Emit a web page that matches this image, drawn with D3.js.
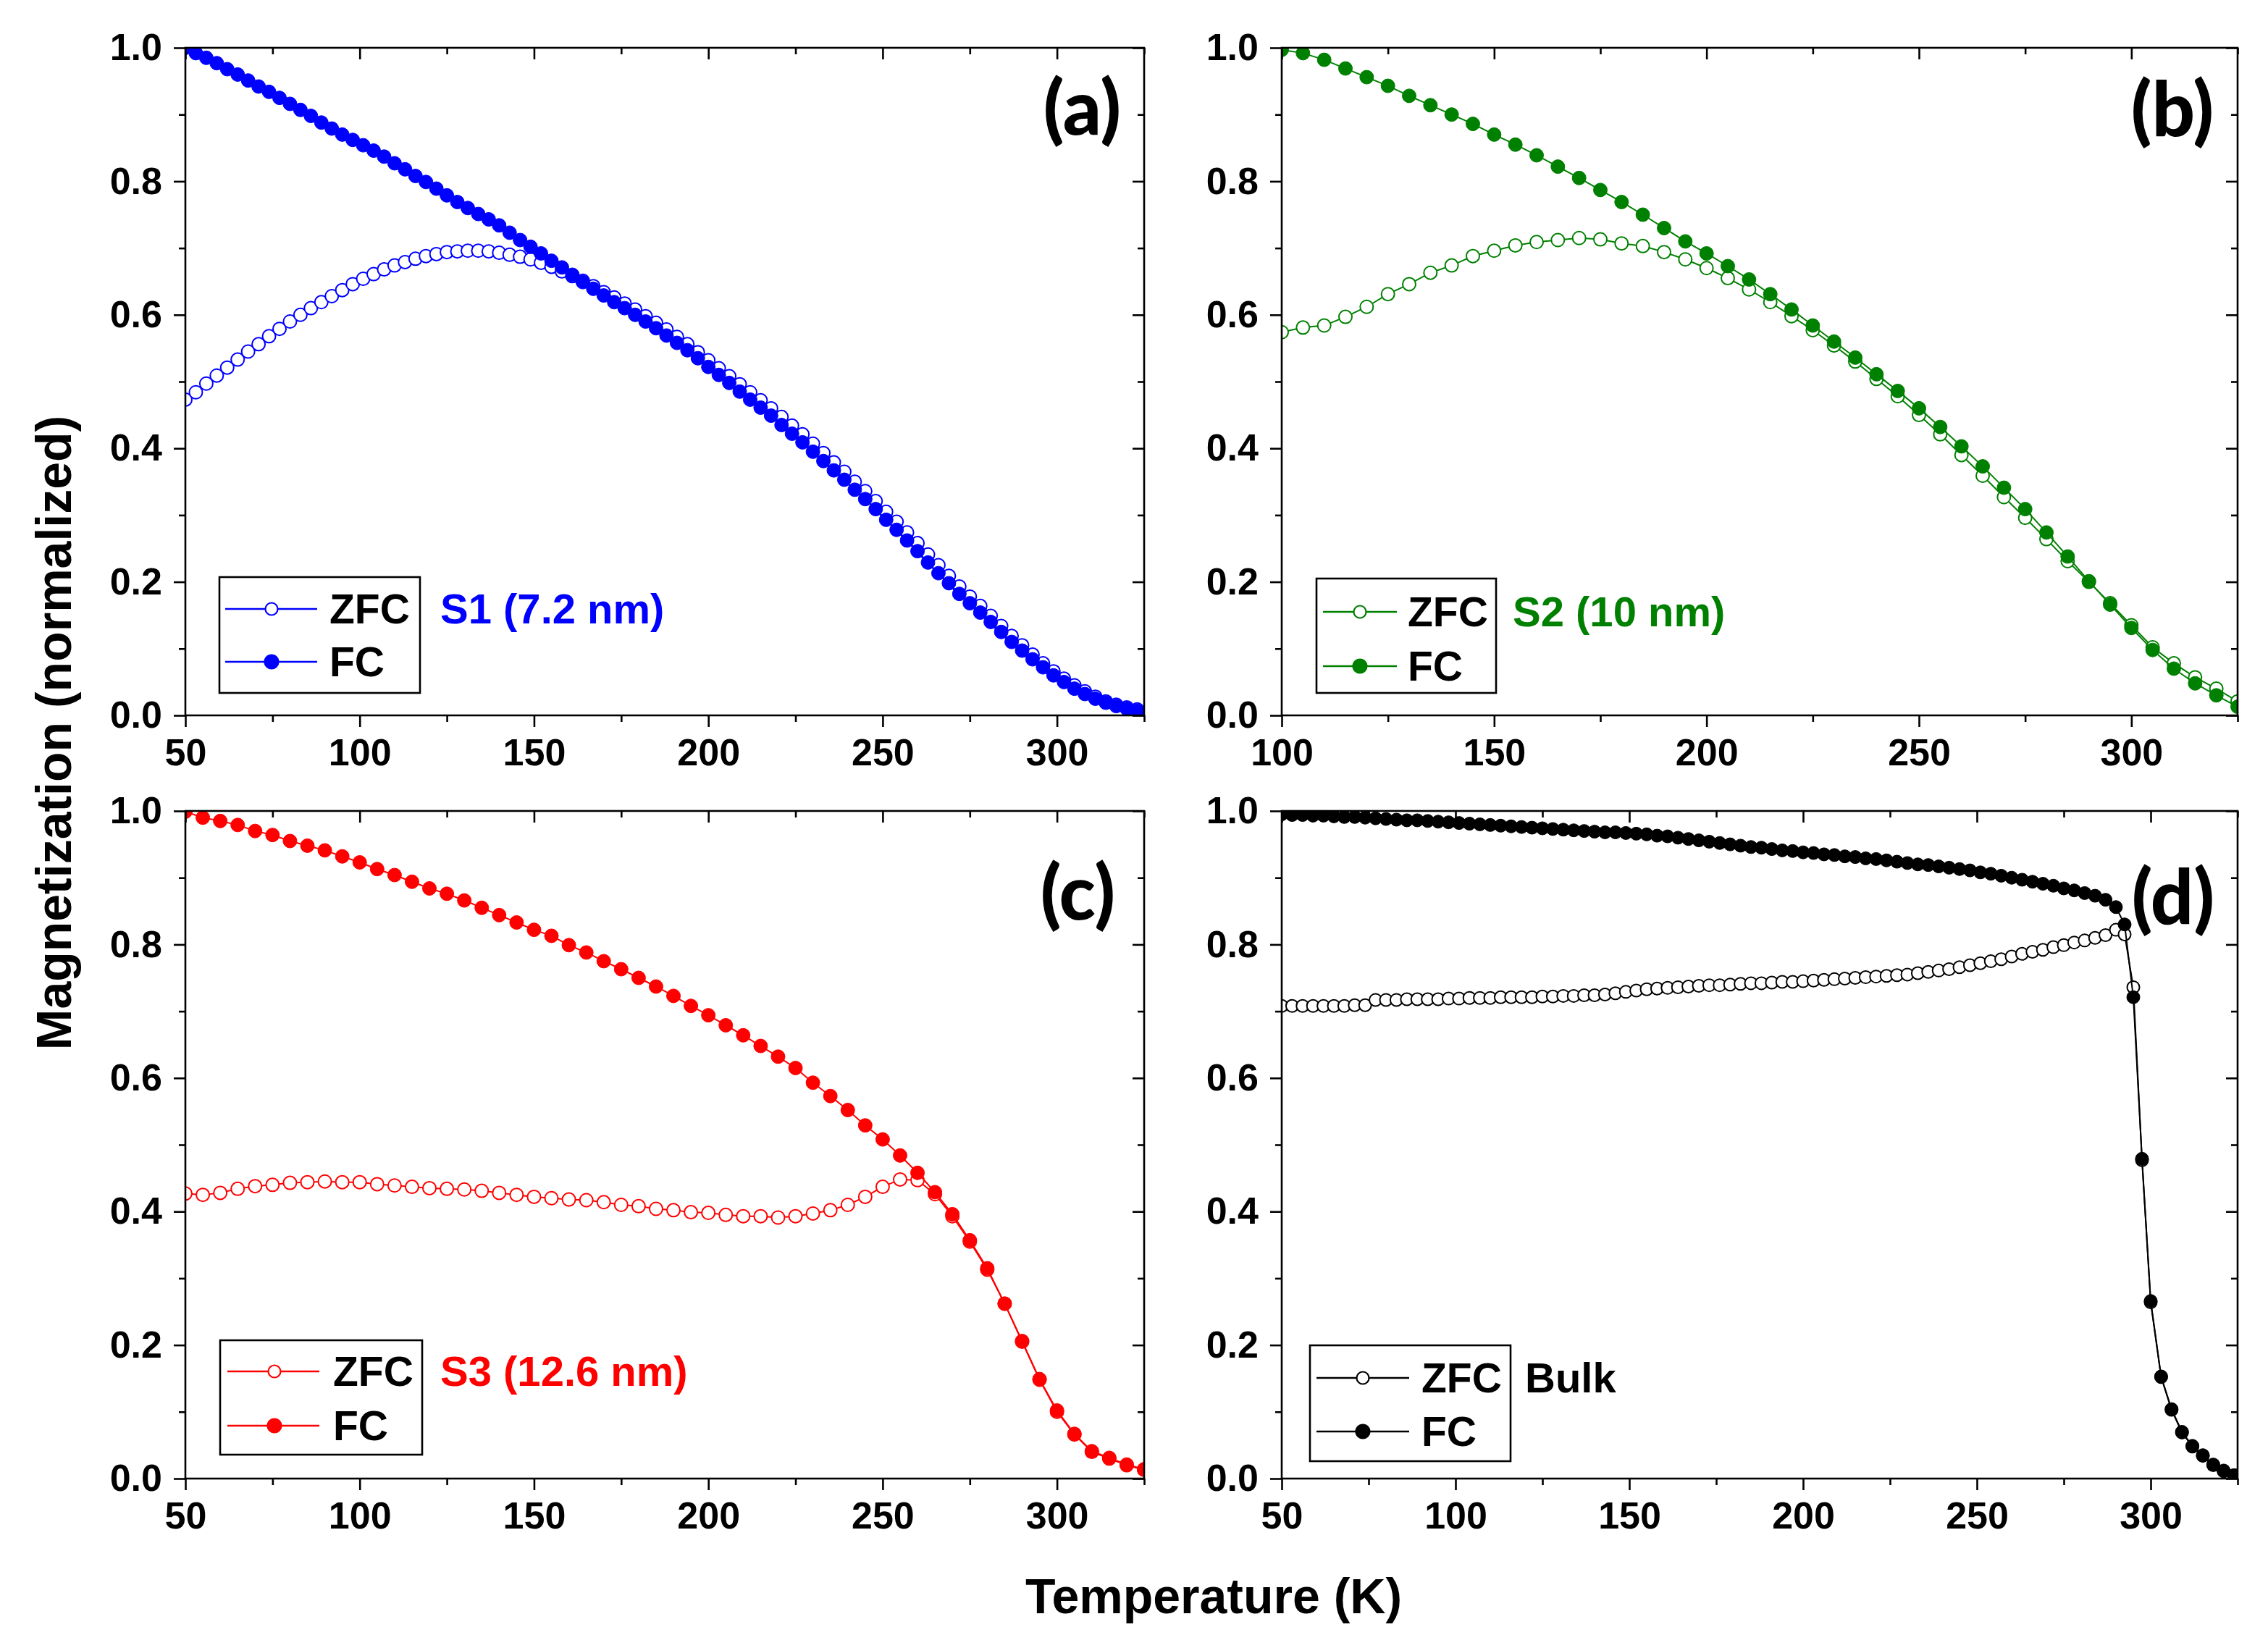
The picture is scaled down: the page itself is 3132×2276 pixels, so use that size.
<!DOCTYPE html>
<html><head><meta charset="utf-8">
<script src="https://cdn.jsdelivr.net/npm/d3@7"></script>
<style>
html,body{margin:0;padding:0;background:#fff;}
svg{display:block;}
text{font-family:"Liberation Sans",Arial,sans-serif;font-weight:bold;}
</style>
</head><body>
<svg id="chart" width="3132" height="2276"></svg>
<script>
// ---------------- DATA ----------------
const panelKeys = ["a","b","c","d"];
const panelLabels = ["(a)","(b)","(c)","(d)"];
const sampleNames = ["S1 (7.2 nm)","S2 (10 nm)","S3 (12.6 nm)","Bulk"];
const seriesNames = ["ZFC","FC"];
const xAxisTitle = "Temperature (K)";
const yAxisTitle = "Magnetization (normalized)";
const yTicks = [0.0,0.2,0.4,0.6,0.8,1.0];
const yMinorTicks = [0.1,0.3,0.5,0.7,0.9];
const xTicksA = [50,100,150,200,250,300];
const xMinorA = [75,125,175,225,275,325];
const xTicksB = [100,150,200,250,300];
const xMinorB = [125,175,225,275,325];

// Panel (a) S1
const tempA = [50,53,56,59,62,65,68,71,74,77,80,83,86,89,92,95,98,101,104,107,110,113,116,119,122,125,128,131,134,137,140,143,146,149,152,155,158,161,164,167,170,173,176,179,182,185,188,191,194,197,200,203,206,209,212,215,218,221,224,227,230,233,236,239,242,245,248,251,254,257,260,263,266,269,272,275,278,281,284,287,290,293,296,299,302,305,308,311,314,317,320,323];
const zfcA = [0.473,0.484,0.497,0.509,0.521,0.533,0.545,0.556,0.568,0.579,0.590,0.600,0.610,0.619,0.628,0.637,0.646,0.654,0.661,0.668,0.674,0.679,0.684,0.688,0.691,0.694,0.695,0.696,0.696,0.695,0.693,0.690,0.687,0.683,0.678,0.672,0.665,0.658,0.651,0.643,0.634,0.626,0.617,0.608,0.598,0.588,0.578,0.567,0.556,0.544,0.532,0.520,0.508,0.496,0.484,0.472,0.460,0.447,0.434,0.421,0.407,0.393,0.379,0.365,0.350,0.336,0.321,0.305,0.290,0.274,0.258,0.241,0.225,0.209,0.193,0.178,0.164,0.149,0.134,0.119,0.105,0.091,0.078,0.066,0.055,0.045,0.036,0.028,0.021,0.016,0.012,0.009];
const fcA = [1.000,0.992,0.985,0.977,0.968,0.960,0.951,0.942,0.934,0.925,0.916,0.907,0.898,0.888,0.879,0.870,0.862,0.854,0.846,0.837,0.827,0.818,0.808,0.799,0.789,0.779,0.769,0.760,0.751,0.743,0.734,0.723,0.712,0.702,0.692,0.681,0.671,0.660,0.649,0.639,0.629,0.619,0.610,0.600,0.590,0.580,0.569,0.558,0.547,0.535,0.522,0.510,0.498,0.485,0.473,0.461,0.449,0.435,0.422,0.409,0.395,0.381,0.367,0.353,0.338,0.324,0.309,0.293,0.278,0.262,0.246,0.229,0.213,0.198,0.182,0.168,0.154,0.140,0.125,0.110,0.097,0.084,0.072,0.060,0.050,0.040,0.032,0.025,0.019,0.014,0.010,0.007];

// Panel (b) S2
const tempB = [100,105,110,115,120,125,130,135,140,145,150,155,160,165,170,175,180,185,190,195,200,205,210,215,220,225,230,235,240,245,250,255,260,265,270,275,280,285,290,295,300,305,310,315,320,325];
const zfcB = [0.574,0.581,0.584,0.597,0.612,0.631,0.646,0.663,0.674,0.688,0.696,0.704,0.709,0.712,0.715,0.713,0.707,0.703,0.694,0.683,0.670,0.655,0.638,0.619,0.598,0.577,0.554,0.530,0.504,0.478,0.450,0.421,0.390,0.359,0.327,0.296,0.264,0.231,0.200,0.168,0.135,0.102,0.078,0.057,0.040,0.021];
const fcB = [0.997,0.992,0.982,0.969,0.956,0.943,0.928,0.914,0.900,0.886,0.870,0.855,0.839,0.822,0.805,0.787,0.769,0.750,0.730,0.710,0.692,0.673,0.653,0.631,0.608,0.584,0.560,0.536,0.511,0.486,0.460,0.432,0.403,0.373,0.341,0.309,0.274,0.238,0.201,0.166,0.131,0.098,0.070,0.048,0.030,0.013];

// Panel (c) S3
const tempC = [50,55,60,65,70,75,80,85,90,95,100,105,110,115,120,125,130,135,140,145,150,155,160,165,170,175,180,185,190,195,200,205,210,215,220,225,230,235,240,245,250,255,260,265,270,275,280,285,290,295,300,305,310,315,320,325];
const zfcC = [0.427,0.425,0.428,0.434,0.438,0.440,0.443,0.444,0.445,0.444,0.444,0.441,0.439,0.437,0.435,0.434,0.433,0.431,0.428,0.425,0.422,0.420,0.418,0.417,0.414,0.410,0.408,0.404,0.402,0.399,0.398,0.395,0.393,0.393,0.391,0.393,0.397,0.402,0.410,0.422,0.437,0.448,0.447,0.426,0.393,0.355,0.313,0.262,0.205,0.148,0.100,0.066,0.040,0.030,0.020,0.013];
const fcC = [0.999,0.990,0.985,0.979,0.970,0.964,0.955,0.948,0.941,0.932,0.923,0.913,0.904,0.894,0.884,0.876,0.866,0.855,0.844,0.833,0.822,0.813,0.799,0.788,0.775,0.763,0.750,0.737,0.723,0.708,0.694,0.679,0.664,0.648,0.632,0.615,0.593,0.573,0.552,0.529,0.508,0.484,0.458,0.429,0.396,0.357,0.315,0.262,0.206,0.149,0.102,0.067,0.041,0.031,0.021,0.014];

// Panel (d) Bulk
const tempD = [50,53,56,59,62,65,68,71,74,77,80,83,86,89,92,95,98,101,104,107,110,113,116,119,122,125,128,131,134,137,140,143,146,149,152,155,158,161,164,167,170,173,176,179,182,185,188,191,194,197,200,203,206,209,212,215,218,221,224,227,230,233,236,239,242,245,248,251,254,257,260,263,266,269,272,275,278,281,284,287,290,292.5,295,297.5,300,303,306,309,312,315,318,321,324];
const zfcD = [0.708,0.708,0.708,0.708,0.708,0.708,0.708,0.709,0.709,0.717,0.717,0.717,0.718,0.718,0.718,0.718,0.719,0.719,0.720,0.720,0.720,0.721,0.721,0.721,0.721,0.722,0.722,0.723,0.723,0.724,0.724,0.725,0.727,0.729,0.731,0.733,0.734,0.735,0.736,0.737,0.738,0.739,0.739,0.740,0.741,0.742,0.742,0.743,0.744,0.744,0.745,0.746,0.747,0.748,0.749,0.750,0.751,0.752,0.753,0.754,0.755,0.757,0.759,0.761,0.763,0.766,0.769,0.772,0.775,0.778,0.782,0.786,0.789,0.792,0.796,0.799,0.803,0.806,0.810,0.814,0.822,0.815,0.736,0.477,0.264,0.152,0.103,0.069,0.048,0.034,0.020,0.011,0.005];
const fcD = [0.995,0.994,0.994,0.993,0.993,0.992,0.991,0.991,0.990,0.989,0.988,0.987,0.986,0.986,0.985,0.984,0.983,0.982,0.981,0.980,0.979,0.978,0.977,0.976,0.975,0.974,0.973,0.972,0.971,0.970,0.969,0.968,0.968,0.967,0.966,0.965,0.963,0.962,0.960,0.958,0.956,0.954,0.952,0.950,0.948,0.946,0.945,0.943,0.941,0.940,0.938,0.937,0.935,0.934,0.932,0.931,0.929,0.928,0.926,0.924,0.922,0.920,0.919,0.917,0.915,0.913,0.911,0.908,0.906,0.903,0.900,0.897,0.894,0.891,0.888,0.884,0.881,0.877,0.873,0.867,0.856,0.830,0.721,0.479,0.266,0.153,0.104,0.070,0.049,0.035,0.021,0.012,0.005];

const panelColors = ["#0000ff","#008000","#ff0000","#000000"];

// ---------------- LAYOUT ----------------
const W = 3132, H = 2276;
const frames = {
  a:{x0:256,x1:1580,y0:66,y1:988},
  b:{x0:1770,x1:3090,y0:66,y1:988},
  c:{x0:256,x1:1580,y0:1120,y1:2042},
  d:{x0:1770,x1:3090,y0:1120,y1:2042}
};
const legendGeo = {
  a:{bx0:47,bx1:324,by0:731,by1:891,lx0:55,lx1:182,mx:119,tx:199,sx:352,r1:775,r2:848},
  b:{bx0:48,bx1:296,by0:733,by1:891,lx0:57,lx1:159,mx:108,tx:174,sx:319,r1:779,r2:854},
  c:{bx0:48,bx1:327,by0:731,by1:889,lx0:58,lx1:185,mx:123,tx:204,sx:352,r1:774,r2:849},
  d:{bx0:39,bx1:316,by0:738,by1:898,lx0:48,lx1:176,mx:112,tx:193,sx:336,r1:783,r2:857}
};
const labelGeo = {a:{dx:-32,y:120},b:{dx:-33,y:122},c:{dx:-40,y:150},d:{dx:-32,y:156}};
const markerR = {a:10,b:10,c:10,d:9.5};

const panelData = [
  {temps:tempA, zfc:zfcA, fc:fcA, xDomain:[50,325], xTicks:xTicksA, xMinor:xMinorA},
  {temps:tempB, zfc:zfcB, fc:fcB, xDomain:[100,325], xTicks:xTicksB, xMinor:xMinorB},
  {temps:tempC, zfc:zfcC, fc:fcC, xDomain:[50,325], xTicks:xTicksA, xMinor:xMinorA},
  {temps:tempD, zfc:zfcD, fc:fcD, xDomain:[50,325], xTicks:xTicksA, xMinor:xMinorA}
];

const svg = d3.select("#chart");
svg.append("rect").attr("width",W).attr("height",H).attr("fill","#fff");
const defs = svg.append("defs");

const AX_W = 2.6, MAJ = 16, MIN = 9, TICK_FS = 52;

function styleAxis(g){
  g.select(".domain").remove();
  g.selectAll(".tick line").attr("stroke","#000").attr("stroke-width",AX_W);
  g.selectAll(".tick text").attr("fill","#000").style("font-size",TICK_FS+"px")
    .style("font-family",'"Liberation Sans",Arial,sans-serif').style("font-weight","bold");
}

panelKeys.forEach((key,pi)=>{
  const P = panelData[pi];
  const F = frames[key];
  const color = panelColors[pi];
  const x = d3.scaleLinear().domain(P.xDomain).range([F.x0,F.x1]);
  const y = d3.scaleLinear().domain([0,1]).range([F.y1,F.y0]);
  const g = svg.append("g");

  defs.append("clipPath").attr("id","clip-"+key).append("rect")
    .attr("x",F.x0).attr("y",F.y0).attr("width",F.x1-F.x0).attr("height",F.y1-F.y0);
  const plot = g.append("g").attr("clip-path",`url(#clip-${key})`);

  const line = d3.line().x(d=>x(d[0])).y(d=>y(d[1]));
  const zData = P.temps.map((t,i)=>[t,P.zfc[i]]);
  const fData = P.temps.map((t,i)=>[t,P.fc[i]]);
  const r = markerR[key];

  plot.append("path").datum(zData).attr("d",line).attr("fill","none").attr("stroke",color).attr("stroke-width",2);
  plot.append("g").selectAll("circle").data(zData).join("circle")
    .attr("cx",d=>x(d[0])).attr("cy",d=>y(d[1])).attr("r",r-1)
    .attr("fill","#fff").attr("stroke",color).attr("stroke-width",2);
  plot.append("path").datum(fData).attr("d",line).attr("fill","none").attr("stroke",color).attr("stroke-width",2);
  plot.append("g").selectAll("circle").data(fData).join("circle")
    .attr("cx",d=>x(d[0])).attr("cy",d=>y(d[1])).attr("r",r-0.5)
    .attr("fill",color).attr("stroke",color).attr("stroke-width",1);

  g.append("g").attr("transform",`translate(0,${F.y1})`)
    .call(d3.axisBottom(x).tickValues(P.xTicks).tickSize(MAJ).tickPadding(16).tickFormat(d3.format("d"))).call(styleAxis);
  g.append("g").attr("transform",`translate(0,${F.y1})`)
    .call(d3.axisBottom(x).tickValues(P.xMinor).tickSize(MIN).tickFormat("")).call(styleAxis);
  g.append("g").attr("transform",`translate(0,${F.y0})`)
    .call(d3.axisBottom(x).tickValues(P.xTicks).tickSize(MAJ).tickFormat("")).call(styleAxis);
  g.append("g").attr("transform",`translate(0,${F.y0})`)
    .call(d3.axisBottom(x).tickValues(P.xMinor).tickSize(MIN).tickFormat("")).call(styleAxis);
  g.append("g").attr("transform",`translate(${F.x0},0)`)
    .call(d3.axisLeft(y).tickValues(yTicks).tickSize(MAJ).tickPadding(16).tickFormat(d3.format(".1f"))).call(styleAxis);
  g.append("g").attr("transform",`translate(${F.x0},0)`)
    .call(d3.axisLeft(y).tickValues(yMinorTicks).tickSize(MIN).tickFormat("")).call(styleAxis);
  g.append("g").attr("transform",`translate(${F.x1},0)`)
    .call(d3.axisLeft(y).tickValues(yTicks).tickSize(MAJ).tickFormat("")).call(styleAxis);
  g.append("g").attr("transform",`translate(${F.x1},0)`)
    .call(d3.axisLeft(y).tickValues(yMinorTicks).tickSize(MIN).tickFormat("")).call(styleAxis);

  g.append("rect").attr("x",F.x0).attr("y",F.y0).attr("width",F.x1-F.x0).attr("height",F.y1-F.y0)
    .attr("fill","none").attr("stroke","#000").attr("stroke-width",AX_W);

  const LG = labelGeo[key];
  g.append("text").attr("x",F.x1+LG.dx).attr("y",F.y0+LG.y).attr("text-anchor","end")
    .style("font-family","Lato,'Open Sans',sans-serif").style("font-weight","900").style("font-size","104px")
    .attr("fill","#000").text(panelLabels[pi]);

  const Gg = legendGeo[key];
  const lg = g.append("g").attr("transform",`translate(${F.x0},${F.y0})`);
  lg.append("rect").attr("x",Gg.bx0).attr("y",Gg.by0).attr("width",Gg.bx1-Gg.bx0).attr("height",Gg.by1-Gg.by0)
    .attr("fill","#fff").attr("stroke","#000").attr("stroke-width",2.6);
  [Gg.r1,Gg.r2].forEach((ry,si)=>{
    lg.append("line").attr("x1",Gg.lx0).attr("x2",Gg.lx1).attr("y1",ry).attr("y2",ry)
      .attr("stroke",color).attr("stroke-width",2.4);
    lg.append("circle").attr("cx",Gg.mx).attr("cy",ry).attr("r",si===0?8.5:9.5)
      .attr("fill",si===0?"#fff":color).attr("stroke",color).attr("stroke-width",2.2);
    lg.append("text").attr("x",Gg.tx).attr("y",ry+20).style("font-size","57px").attr("fill","#000").text(seriesNames[si]);
  });
  lg.append("text").attr("x",Gg.sx).attr("y",Gg.r1+20).style("font-size","58px").attr("fill",color).text(sampleNames[pi]);
});

svg.append("text").attr("x",1676).attr("y",2228).attr("text-anchor","middle")
  .style("font-size","68px").attr("fill","#000").text(xAxisTitle);
svg.append("text").attr("transform","translate(98,1012) rotate(-90)").attr("text-anchor","middle")
  .style("font-size","68px").attr("fill","#000").text(yAxisTitle);
</script>
</body></html>
